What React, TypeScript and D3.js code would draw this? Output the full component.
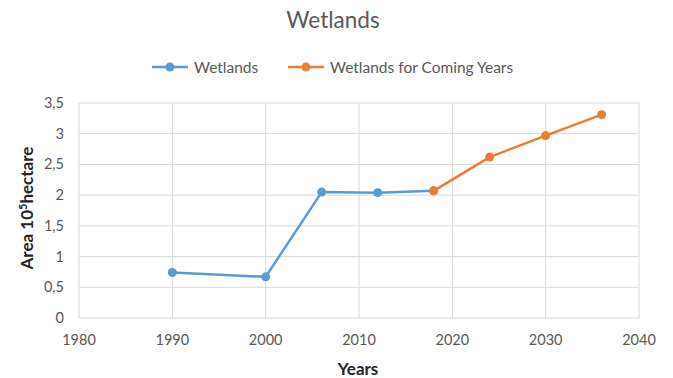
import React, { useEffect, useRef } from "react";
import * as d3 from "d3";

// observed wetland area (10^5 hectare)
const pastYears = [1990, 2000, 2006, 2012, 2018];
const pastValues = [0.74, 0.67, 2.05, 2.04, 2.07];
// projection
const futureYears = [2018, 2024, 2030, 2036];
const futureValues = [2.07, 2.62, 2.97, 3.31];

const xTicks = [1980, 1990, 2000, 2010, 2020, 2030, 2040];
const yTicks = [0, 0.5, 1, 1.5, 2, 2.5, 3, 3.5];

const BLUE = "#5B9BD5";
const ORANGE = "#ED7D31";
const FONT = "Lato, 'Open Sans', sans-serif";

export default function App() {
  const ref = useRef<SVGSVGElement>(null);

  useEffect(() => {
    const svg = d3.select(ref.current);
    svg.selectAll("*").remove();

    const left = 79, right = 639, top = 103, bottom = 318;
    const x = d3.scaleLinear().domain([1980, 2040]).range([left, right]);
    const y = d3.scaleLinear().domain([0, 3.5]).range([bottom, top]);

    svg.append("rect").attr("width", 673).attr("height", 378).attr("fill", "#fff");

    // grid
    const grid = svg.append("g").attr("stroke", "#d9d9d9").attr("stroke-width", 1);
    xTicks.forEach((t) => {
      grid.append("line")
        .attr("x1", x(t)).attr("x2", x(t))
        .attr("y1", top).attr("y2", bottom);
    });
    yTicks.forEach((t) => {
      grid.append("line")
        .attr("x1", left).attr("x2", right)
        .attr("y1", y(t)).attr("y2", y(t));
    });

    // tick labels
    svg.append("g").selectAll("text").data(yTicks).enter().append("text")
      .attr("x", left - 15).attr("y", (d) => y(d) + 5)
      .attr("text-anchor", "end")
      .attr("font-family", FONT).attr("font-size", 14.5).attr("fill", "#595959")
      .text((d) => String(d).replace(".", ","));

    svg.append("g").selectAll("text").data(xTicks).enter().append("text")
      .attr("x", (d) => x(d)).attr("y", bottom + 27)
      .attr("text-anchor", "middle")
      .attr("font-family", FONT).attr("font-size", 14.5).attr("fill", "#595959")
      .text((d) => d);

    // series
    const line = d3.line<[number, number]>().x((d) => x(d[0])).y((d) => y(d[1]));
    const drawSeries = (xs: number[], vs: number[], color: string) => {
      const pts: [number, number][] = xs.map((v, i) => [v, vs[i]]);
      svg.append("path").datum(pts)
        .attr("d", line).attr("fill", "none")
        .attr("stroke", color).attr("stroke-width", 2.5)
        .attr("stroke-linejoin", "round");
      svg.append("g").selectAll("circle").data(pts).enter().append("circle")
        .attr("cx", (d) => x(d[0])).attr("cy", (d) => y(d[1]))
        .attr("r", 4.5).attr("fill", color);
    };
    drawSeries(pastYears, pastValues, BLUE);
    drawSeries(futureYears, futureValues, ORANGE);

    // title
    svg.append("text")
      .attr("x", 333).attr("y", 28).attr("text-anchor", "middle")
      .attr("font-family", FONT).attr("font-size", 22.5).attr("fill", "#595959")
      .text("Wetlands");

    // legend
    const legend = [
      { label: "Wetlands", color: BLUE, x0: 152 },
      { label: "Wetlands for Coming Years", color: ORANGE, x0: 288 },
    ];
    legend.forEach((l) => {
      const g = svg.append("g");
      g.append("line")
        .attr("x1", l.x0).attr("x2", l.x0 + 36)
        .attr("y1", 67).attr("y2", 67)
        .attr("stroke", l.color).attr("stroke-width", 2.5);
      g.append("circle").attr("cx", l.x0 + 18).attr("cy", 67).attr("r", 4.5).attr("fill", l.color);
      g.append("text")
        .attr("x", l.x0 + 42).attr("y", 72.5)
        .attr("font-family", FONT).attr("font-size", 15.5).attr("fill", "#595959")
        .text(l.label);
    });

    // axis titles
    svg.append("text")
      .attr("x", 358).attr("y", 375).attr("text-anchor", "middle")
      .attr("font-family", FONT).attr("font-size", 17).attr("font-weight", "bold")
      .attr("fill", "#262626")
      .text("Years");

    const yl = svg.append("text")
      .attr("transform", "translate(33,208) rotate(-90)")
      .attr("text-anchor", "middle")
      .attr("font-family", FONT).attr("font-size", 17).attr("font-weight", "bold")
      .attr("fill", "#262626");
    yl.append("tspan").text("Area 10");
    yl.append("tspan").attr("dy", -6).attr("font-size", 11).text("5");
    yl.append("tspan").attr("dy", 6).text("hectare");
  }, []);

  return (
    <svg
      ref={ref}
      width={673}
      height={378}
      style={{ position: "absolute", left: 0, top: 0, display: "block" }}
    />
  );
}
